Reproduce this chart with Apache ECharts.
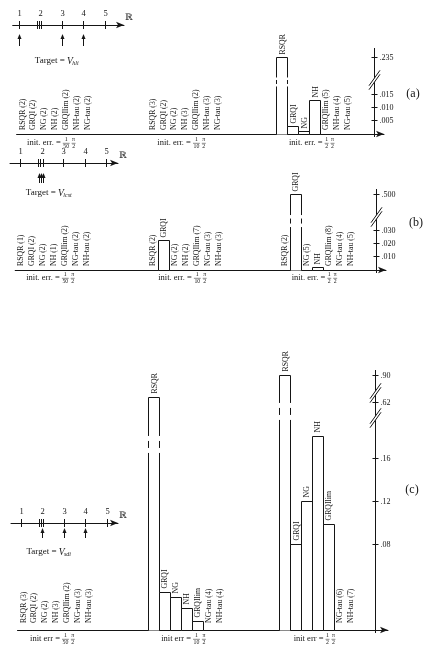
<!DOCTYPE html>
<html><head><meta charset="utf-8">
<script src="https://cdn.jsdelivr.net/npm/echarts@6.0.0/dist/echarts.min.js"></script>
<style>html,body{margin:0;padding:0;background:#fff}#c{width:428px;height:648px}</style>
</head><body><div id="c"></div>
<script>
// ---------------- DATA ----------------
const methodsA  = ['RSQR','GRQI','NG','NH','GRQIlim','NH-tau','NG-tau'];
const methodsBC = ['RSQR','GRQI','NG','NH','GRQIlim','NG-tau','NH-tau'];
const initErrDenoms = ['50','10','2'];
const targetSubs = ['hli','lcst','sdi'];

// iteration counts (null = converged elsewhere: bar shows the error)
const itersA = [[2,2,2,2,2,2,2],[3,2,2,3,2,3,3],[null,null,null,null,5,4,5]];
const errA   = [[0,0,0,0,0,0,0],[0,0,0,0,0,0,0],[0.235,0.003,0.001,0.0125,0,0,0]];
const itersB = [[1,2,2,1,2,2,2],[2,null,2,2,7,3,3],[2,null,5,null,8,4,5]];
const errB   = [[0,0,0,0,0,0,0],[0,0.022,0,0,0,0,0],[0,0.5,0,0.002,0,0,0]];
const itersC = [[3,2,2,3,2,3,3],[null,null,null,null,null,4,4],[null,null,null,null,null,6,7]];
const errC   = [[0,0,0,0,0,0,0],[0.625,0.035,0.030,0.020,0.0075,0,0],[0.90,0.08,0.12,0.18,0.098,0,0]];

const ticksA = [0.005,0.010,0.015,0.235];
const ticksB = [0.010,0.020,0.030,0.500];
const ticksC = [0.08,0.12,0.16,0.62,0.90];
const tickLabelsA = ['.005','.010','.015','.235'];
const tickLabelsB = ['.010','.020','.030','.500'];
const tickLabelsC = ['.08','.12','.16','.62','.90'];

// number lines (eigenvalue positions / starting points)
const nlNumbers = [1,2,3,4,5];
const nlTicks = [1,1.84,1.94,2.05,3,4,5];
const nlArrowsA = [1,3,4];
const nlArrowsB = [1.86,1.96,2.07];
const nlArrowsC = [2,3,4];

// ---------------- LAYOUT ----------------
const FONT = '"Liberation Serif","Times New Roman",serif';
const INK = '#151515';
const P_A = {left:16.6, slotW:10.85, right:384, topY:48, baseY:134, pxPerUnit:2660, axisX:375,
  segments:[{upTo:0.1,off:0},{upTo:Infinity,off:0.0286-0.235}], axisBreaks:[0.0203], barBreaks:[null,null,0.01955],
  breakGap:4.5, breakDash:2, labelGap:3, zeroGap:4, textDy:9, initWord:'init. err. = ', tag:'(a)', tagX:413, tagY:94};
const P_B = {left:15.2, slotW:11, right:386, topY:189, baseY:270, pxPerUnit:1330, axisX:376,
  segments:[{upTo:0.1,off:0},{upTo:Infinity,off:0.0571-0.5}], axisBreaks:[0.03985], barBreaks:[null,null,0.0368],
  breakGap:6, breakDash:2.5, labelGap:3, zeroGap:4, textDy:8, initWord:'init. err. = ', tag:'(b)', tagX:416, tagY:223};
const P_C = {left:17.5, slotW:10.92, right:388, topY:370, baseY:630, pxPerUnit:1075, axisX:376,
  segments:[{upTo:0.4,off:0},{upTo:0.75,off:0.2112-0.62},{upTo:Infinity,off:0.2372-0.90}], axisBreaks:[0.2205,0.1972], barBreaks:[null,0.1726,0.2033],
  breakGap:8.5, breakDash:3.5, labelGap:4, zeroGap:7, textDy:9, initWord:'init err = ', tag:'(c)', tagX:412, tagY:490};
const NL_A = {lineY:25, x1:19, start:12.7, end:124, arrTop:34, arrBot:46, targetX:57, targetY:61};
const NL_B = {lineY:163, x1:20.7, start:10, end:118, arrTop:173, arrBot:183, targetX:49, targetY:193};
const NL_C = {lineY:523, x1:21, start:11, end:118, arrTop:528, arrBot:538, targetX:49, targetY:552};
const NL_STEP = 21.5;

const mctx = document.createElement('canvas').getContext('2d');
function tw(t, size, style){ mctx.font = (style||'') + ' ' + size + 'px ' + FONT; return mctx.measureText(t).width; }
function crisp(v){ return Math.round(v - 0.5) + 0.5; }
function L(x1,y1,x2,y2,w){ return {type:'line', shape:{x1,y1,x2,y2}, style:{stroke:INK, lineWidth:w||1}}; }
function T(x,y,text,size,opts){ return Object.assign({type:'text', x, y, style:Object.assign({text, fontSize:size, fontFamily:FONT, fill:INK, align:'left', verticalAlign:'middle'}, (opts&&opts.style)||{})}, (opts&&opts.el)||{}); }
function disp(P, v){ for (const s of P.segments) if (v <= s.upTo) return v + s.off; }

const grids=[], xAxes=[], yAxes=[], series=[], graphics=[];

const panels = [
  {P:P_A, methods:methodsA, iters:itersA, errs:errA, ticks:ticksA, tickLabels:tickLabelsA},
  {P:P_B, methods:methodsBC, iters:itersB, errs:errB, ticks:ticksB, tickLabels:tickLabelsB},
  {P:P_C, methods:methodsBC, iters:itersC, errs:errC, ticks:ticksC, tickLabels:tickLabelsC}
];

panels.forEach((pn, k) => {
  const P = pn.P;
  const width = P.right - P.left, height = P.baseY - P.topY;
  grids.push({left:P.left, top:P.topY, width, height});
  const xMax = -0.5 + width / P.slotW;
  const yMax = height / P.pxPerUnit;
  const axisSlot = -0.5 + (P.axisX - P.left) / P.slotW;
  xAxes.push({type:'value', gridIndex:k, min:-0.5, max:xMax,
    axisLine:{show:true, onZero:true, symbol:['none','arrow'], symbolSize:[5,8], lineStyle:{color:INK, width:1}},
    axisTick:{show:false}, axisLabel:{show:false}, splitLine:{show:false}});
  yAxes.push({type:'value', gridIndex:k, min:0, max:yMax, show:false, splitLine:{show:false}});

  // bars + method labels
  const items = [];
  pn.iters.forEach((grp, g) => grp.forEach((n, i) => {
    const v = pn.errs[g][i];
    items.push({slot:g*12+i, value:v, text: n == null ? pn.methods[i] : pn.methods[i] + ' (' + n + ')',
      broken: v > P.segments[0].upTo, breakAt:P.barBreaks[g]});
  }));
  series.push({type:'custom', xAxisIndex:k, yAxisIndex:k, silent:true, clip:false, z:3,
    data: items.map(it => [it.slot, disp(P, it.value)]),
    renderItem: function(params, api){
      const it = items[params.dataIndex];
      const base = api.coord([it.slot, 0]);
      const w = api.size([1, 0])[0];
      const cx = base[0];
      const ch = [];
      let lb;
      if (it.value > 0) {
        const yt = crisp(api.coord([it.slot, disp(P, it.value)])[1]);
        const yb = crisp(base[1]);
        const x0 = crisp(cx - w/2), x1 = crisp(cx + w/2);
        if (it.broken) {
          const c = api.coord([it.slot, it.breakAt])[1];
          ch.push({type:'rect', shape:{x:x0, y:yt, width:x1-x0, height:yb-yt}, style:{fill:'#fff'}});
          ch.push(L(x0,yt,x1,yt));
          [x0,x1].forEach(x => {
            ch.push(L(x,yt,x,c-P.breakGap));
            ch.push(L(x,c-P.breakDash,x,c+P.breakDash));
            ch.push(L(x,c+P.breakGap,x,yb));
          });
        } else {
          ch.push({type:'rect', shape:{x:x0, y:yt, width:x1-x0, height:yb-yt}, style:{fill:'#fff', stroke:INK, lineWidth:1}});
        }
        lb = yt - P.labelGap;
      } else {
        lb = base[1] - P.zeroGap;
      }
      ch.push(T(cx + 0.5, lb, it.text, 7.8, {el:{rotation:Math.PI/2}}));
      return {type:'group', children:ch};
    }});

  // vertical value axis with breaks
  const axItems = [{kind:'line', d:0}];
  pn.ticks.forEach((t, i) => axItems.push({kind:'tick', d:disp(P, t), label:pn.tickLabels[i]}));
  P.axisBreaks.forEach(b => axItems.push({kind:'break', d:b}));
  series.push({type:'custom', xAxisIndex:k, yAxisIndex:k, silent:true, clip:false, z:6,
    data: axItems.map(a => [axisSlot, a.d]),
    renderItem: function(params, api){
      const a = axItems[params.dataIndex];
      const p = api.coord([axisSlot, a.d]);
      const ax = crisp(p[0]);
      if (a.kind === 'line') {
        const top = api.coord([axisSlot, yMax])[1];
        return L(ax, top, ax, p[1] + 3);
      }
      if (a.kind === 'tick') {
        const y = crisp(p[1]);
        return {type:'group', children:[L(ax-3, y, ax+3, y), T(ax+5, y, a.label, 8)]};
      }
      const y = p[1];
      return {type:'group', children:[
        {type:'polygon', shape:{points:[[ax-5,y+9],[ax+5,y-5],[ax+5,y-9],[ax-5,y+5]]}, style:{fill:'#fff'}},
        L(ax-5.5, y+9.7, ax+5.5, y-5.7), L(ax-5.5, y+5.7, ax+5.5, y-9.7)
      ]};
    }});

  // initial error captions
  const groupCenters = [0,1,2].map(g => g*12 + 2.7);
  series.push({type:'custom', xAxisIndex:k, yAxisIndex:k, silent:true, clip:false, z:3,
    data: groupCenters.map(s => [s, 0]),
    renderItem: function(params, api){
      const g = params.dataIndex;
      const p = api.coord([groupCenters[g], 0]);
      const y = p[1] + P.textDy;
      const fs = 8.5, ff = 5.8;
      const mainW = tw(P.initWord, fs);
      const den = initErrDenoms[g];
      const f1 = Math.max(tw('1', ff), tw(den, ff)) + 1;
      const f2 = Math.max(tw('π', ff), tw('2', ff)) + 1;
      const total = mainW + f1 + 2 + f2;
      let x = p[0] - total/2;
      const ch = [T(x, y, P.initWord, fs)];
      x += mainW;
      const fr = (cx, fw, num, dn) => [
        T(cx, y-3.2, num, ff, {style:{align:'center'}}),
        T(cx, y+3.7, dn, ff, {style:{align:'center'}}),
        L(cx-fw/2, y+0.3, cx+fw/2, y+0.3, 0.5)
      ];
      ch.push(...fr(x + f1/2, f1, '1', den));
      x += f1 + 2;
      ch.push(...fr(x + f2/2, f2, 'π', '2'));
      return {type:'group', children:ch};
    }});

  graphics.push({type:'text', x:P.tagX, y:P.tagY, style:{text:P.tag, fontSize:12, fontFamily:FONT, fill:INK, align:'center', verticalAlign:'middle'}});
});

// ---------------- number lines ----------------
const nls = [{N:NL_A, arrows:nlArrowsA, sub:targetSubs[0]}, {N:NL_B, arrows:nlArrowsB, sub:targetSubs[1]}, {N:NL_C, arrows:nlArrowsC, sub:targetSubs[2]}];
nls.forEach((nl, j) => {
  const N = nl.N, k = 3 + j;
  grids.push({left:N.start, top:N.lineY - 20, width:N.end - N.start, height:40});
  xAxes.push({type:'value', gridIndex:k, min:1 - (N.x1 - N.start)/NL_STEP, max:1 + (N.end - N.x1)/NL_STEP,
    axisLine:{show:true, onZero:true, symbol:['none','arrow'], symbolSize:[5,8], lineStyle:{color:INK, width:1}},
    axisTick:{show:false}, axisLabel:{show:false}, splitLine:{show:false}});
  yAxes.push({type:'value', gridIndex:k, min:-1, max:1, show:false});
  const items = [];
  nlTicks.forEach(v => items.push({kind:'tick', v}));
  nlNumbers.forEach(v => items.push({kind:'num', v}));
  nl.arrows.forEach(v => items.push({kind:'arrow', v}));
  series.push({type:'custom', xAxisIndex:k, yAxisIndex:k, silent:true, clip:false, z:3,
    data: items.map(it => [it.v, 0]),
    renderItem: function(params, api){
      const it = items[params.dataIndex];
      const p = api.coord([it.v, 0]);
      const x = crisp(p[0]), y = p[1];
      if (it.kind === 'tick') return L(x, y-4, x, y+4);
      if (it.kind === 'num') return T(x, y-11, String(it.v), 8.5, {style:{align:'center'}});
      return {type:'group', children:[
        L(x, N.arrTop + 3, x, N.arrBot),
        {type:'polygon', shape:{points:[[x, N.arrTop], [x-2, N.arrTop+5], [x+2, N.arrTop+5]]}, style:{fill:INK}}
      ]};
    }});
  graphics.push({type:'text', x:N.end + 1, y:N.lineY - 7, style:{text:'ℝ', fontSize:9, fontFamily:'"DejaVu Serif",serif', fill:INK, align:'left', verticalAlign:'middle'}});
  // Target label
  const w1 = tw('Target = ', 9), w2 = tw('V', 9.5, 'italic'), w3 = tw(nl.sub, 6, 'italic');
  let tx = N.targetX - (w1 + w2 + w3)/2;
  graphics.push({type:'text', x:tx, y:N.targetY, style:{text:'Target = ', fontSize:9, fontFamily:FONT, fill:INK, align:'left', verticalAlign:'middle'}});
  graphics.push({type:'text', x:tx + w1, y:N.targetY, style:{text:'V', fontSize:9.5, fontStyle:'italic', fontFamily:FONT, fill:INK, align:'left', verticalAlign:'middle'}});
  graphics.push({type:'text', x:tx + w1 + w2 - 0.5, y:N.targetY + 2.8, style:{text:nl.sub, fontSize:6, fontStyle:'italic', fontFamily:FONT, fill:INK, align:'left', verticalAlign:'middle'}});
});

const chart = echarts.init(document.getElementById('c'));
chart.setOption({
  animation:false,
  backgroundColor:'#fff',
  grid:grids, xAxis:xAxes, yAxis:yAxes, series:series,
  graphic:{elements:graphics}
});
</script></body></html>
